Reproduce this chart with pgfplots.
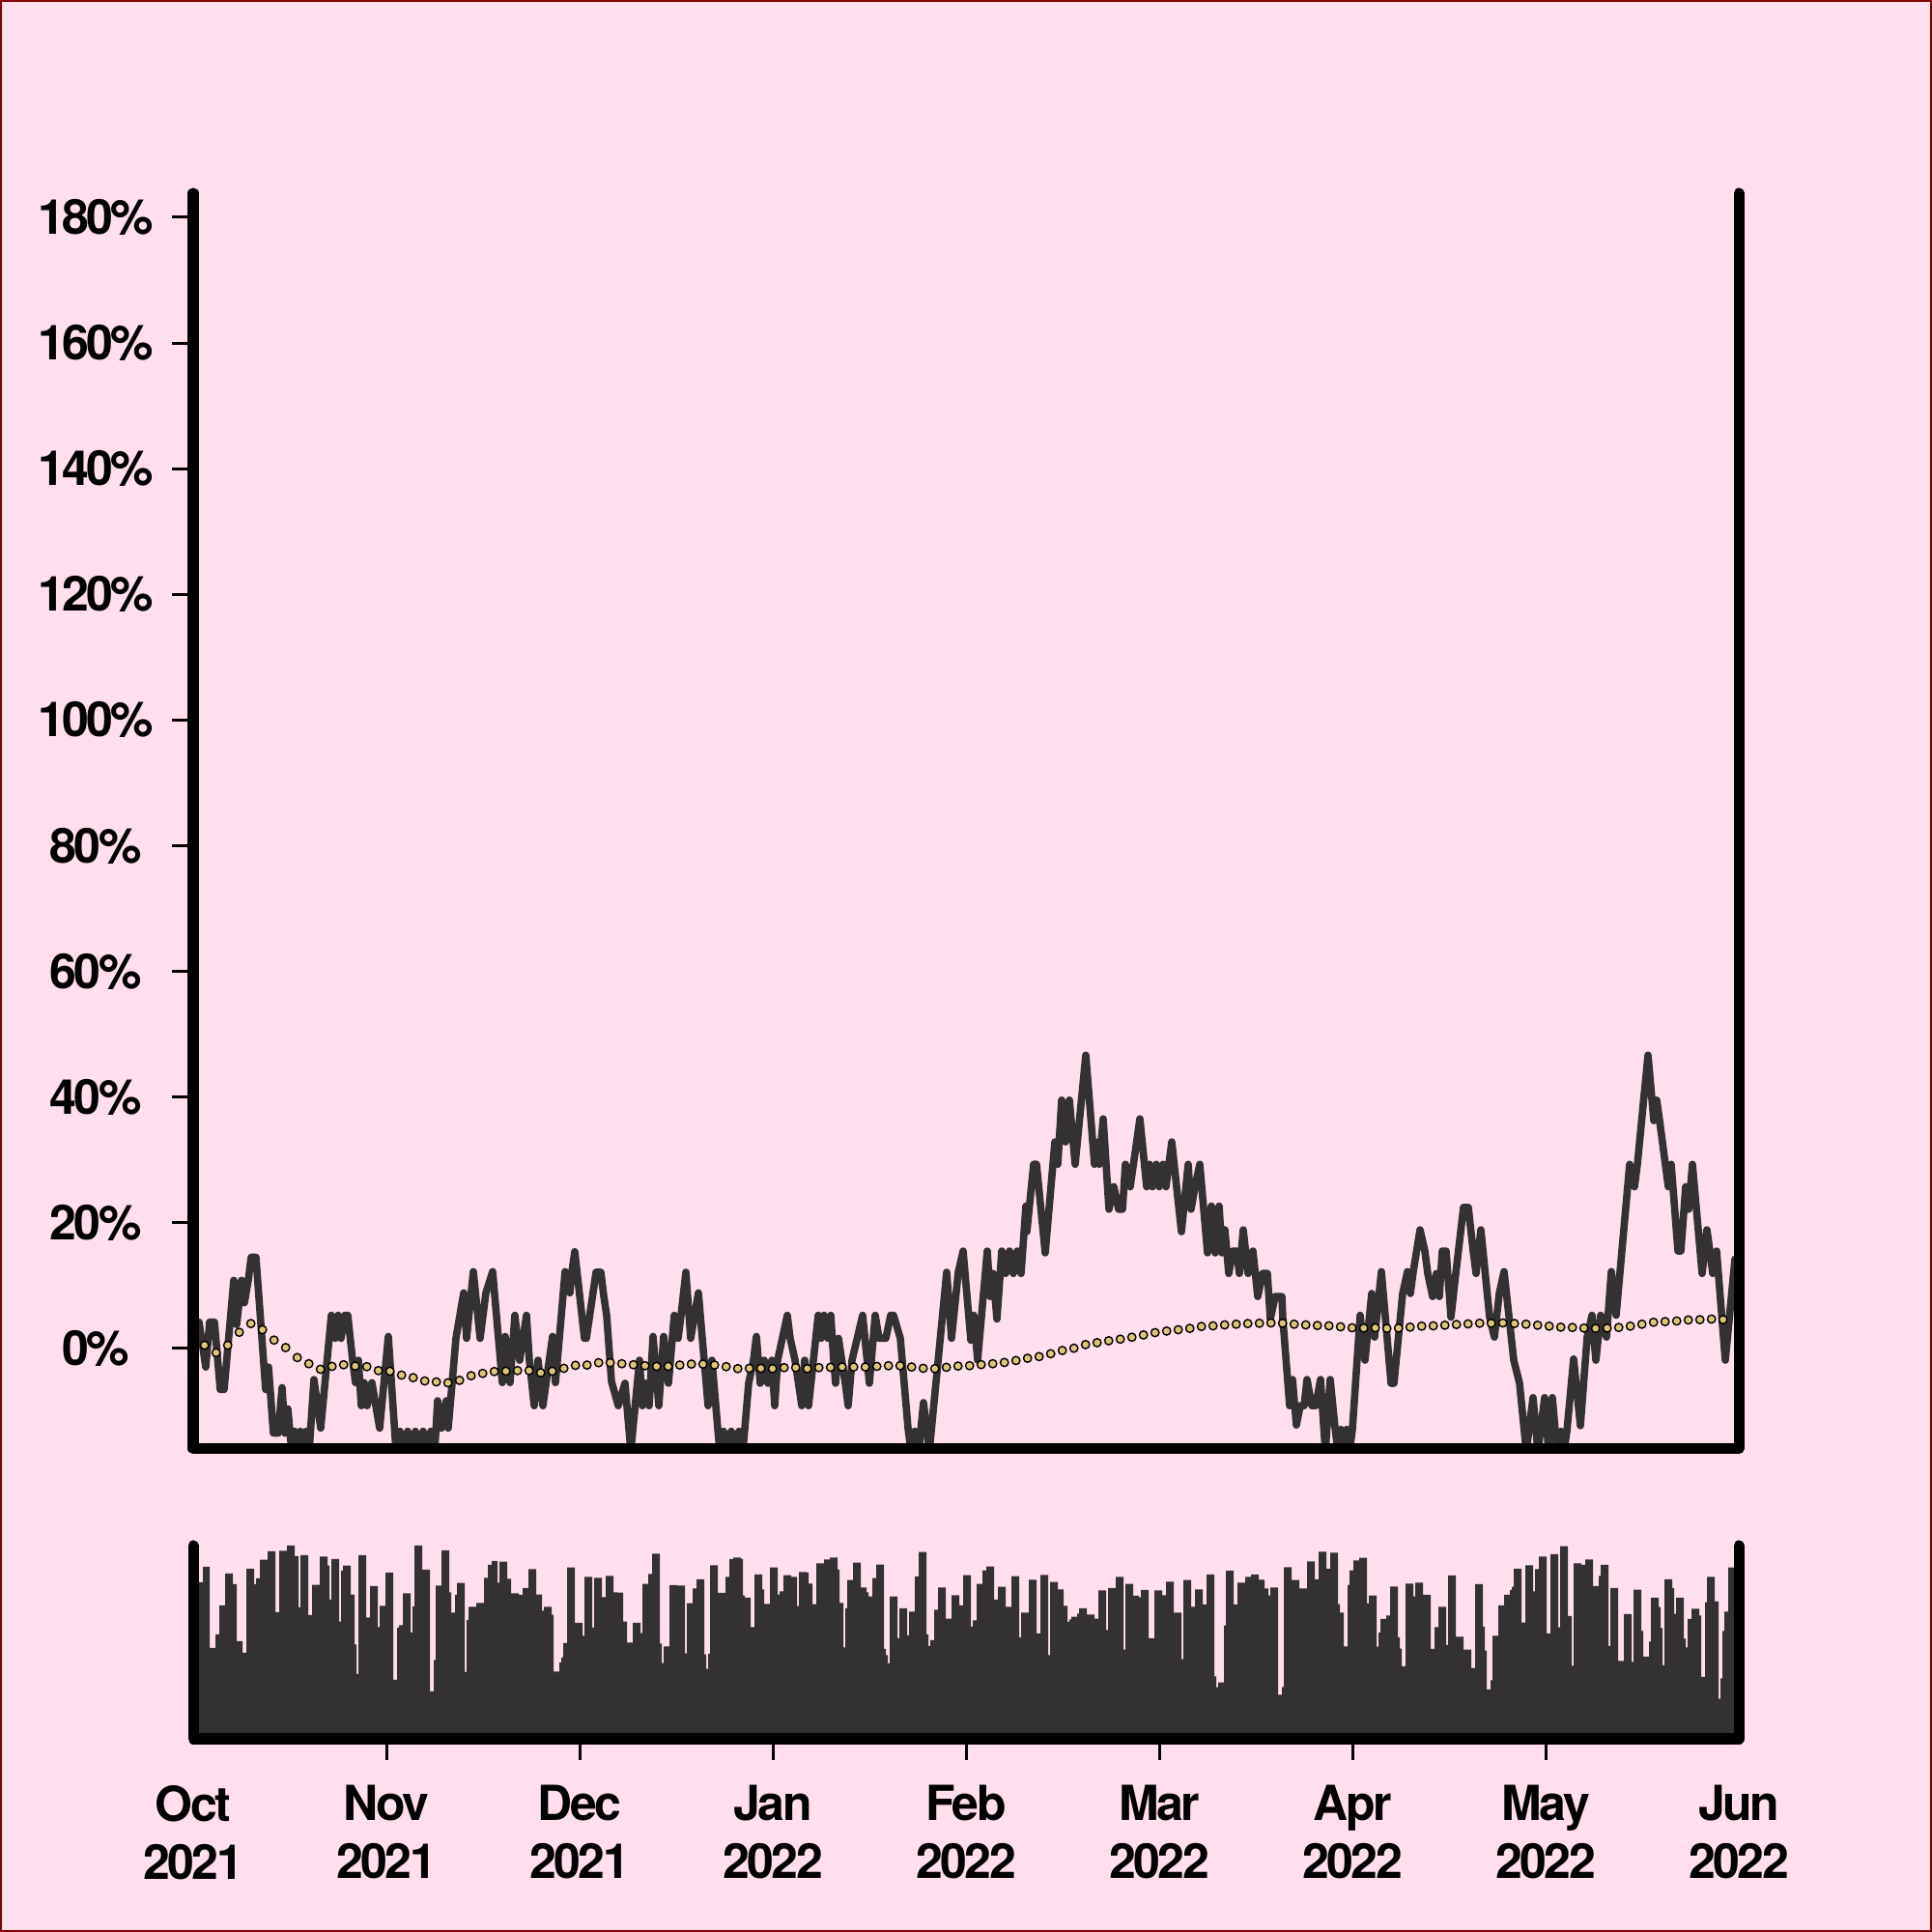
\documentclass[border=0pt]{standalone}
\usepackage{fontspec}
\setmainfont{TeX Gyre Heros}[LetterSpace=-5]
\usepackage{pgfplots}
\pgfplotsset{compat=1.18}
\definecolor{bg}{RGB}{255,223,238}
\definecolor{framecol}{RGB}{128,0,0}
\definecolor{ink}{RGB}{51,49,50}
\definecolor{dotfill}{RGB}{222,196,120}
\newcommand{\lblfont}{\fontsize{12.5}{15}\selectfont\bfseries}
\begin{document}
\begin{tikzpicture}
\fill[bg] (0pt,0pt) rectangle (500pt,500pt);
\draw[framecol, line width=0.5pt] (0.25pt,0.25pt) rectangle (499.75pt,499.75pt);
\useasboundingbox (0pt,0pt) rectangle (500pt,500pt);

% ---------------- main price axis ----------------
\begin{axis}[
  at={(50pt,125.125pt)}, anchor=south west, scale only axis,
  width=400pt, height=324.875pt,
  xmin=0, xmax=1600, ymin=-15.91, ymax=183.83,
  axis line style={draw=none},
  clip mode=individual,
  xtick=\empty,
  ytick={0,20,40,60,80,100,120,140,160,180},
  yticklabels={0\%,20\%,40\%,60\%,80\%,100\%,120\%,140\%,160\%,180\%},
  ytick pos=left, tick align=outside,
  major tick length=5.5pt,
  tick style={black, line width=0.75pt},
  yticklabel style={font=\lblfont, text width=32pt, align=center, inner sep=0pt, xshift=-3.5pt},
]
\addplot[ink, line width=1.9pt, line join=round, line cap=round] coordinates {
(0,1.32) (6,4.2) (13,-2.95) (17,4.2) (22,4.2) (28,-6.52) (32,-6.52) (42,10.85) (45,3.8) (50,10.85) (53,7.28) (57,10.85) (60,14.52) (65,14.52) (75,-6.52) (78,-2.95) (83,-13.47) (88,-13.47) (92,-6.22) (95,-13.47) (98,-9.6) (102,-16.35) (105,-13.17) (108,-16.35) (111,-13.17) (114,-16.35) (117,-13.17) (120,-16.35) (125,-4.93) (132,-12.67) (143,5.29) (147,1.62) (150,5.29) (153,1.62) (157,5.29) (160,5.29) (165,-1.86) (168,-5.43) (171,-1.86) (174,-9.1) (177,-5.43) (180,-9.1) (185,-5.43) (193,-12.67) (202,1.92) (210,-16.35) (214,-13.17) (218,-16.35) (222,-13.17) (226,-16.35) (230,-13.17) (234,-16.35) (238,-13.17) (242,-16.35) (246,-13.17) (250,-16.35) (253,-8.31) (257,-12.67) (262,-8.31) (264,-12.67) (272,1.62) (280,8.86) (283,1.62) (290,12.24) (297,1.62) (303,8.86) (310,12.24) (320,-5.43) (323,1.92) (328,-5.43) (333,5.29) (338,-1.86) (345,5.29) (348,-1.86) (353,-9.1) (357,-1.86) (362,-9.1) (372,1.92) (375,-5.43) (385,12.24) (390,8.86) (392,12.24) (395,15.41) (405,1.62) (407,1.62) (417,12.14) (422,12.14) (425,8.37) (428,5.29) (433,-5.23) (440,-9.1) (447,-5.53) (453,-16.35) (462,-1.86) (465,-9.1) (468,-5.53) (472,-9.1) (476,1.92) (482,-9.1) (487,1.92) (492,-5.53) (498,5.29) (502,1.62) (505,5.29) (510,12.14) (515,1.62) (519,5.29) (523,8.86) (527,1.62) (533,-9.1) (537,-1.86) (545,-16.35) (549,-13.17) (553,-16.35) (557,-13.17) (561,-16.35) (565,-13.17) (569,-16.35) (575,-5.53) (580,-1.86) (583,1.92) (587,-5.53) (591,-1.86) (595,-5.53) (599,-1.86) (602,-9.1) (605,-1.86) (615,5.29) (618,1.62) (623,-1.86) (630,-9.1) (633,-1.86) (637,-9.1) (647,5.29) (650,1.62) (653,5.29) (657,1.62) (660,5.29) (663,-1.86) (665,-5.53) (668,1.62) (675,-5.53) (678,-9.1) (682,-1.86) (693,5.29) (700,-5.53) (706,5.29) (710,1.62) (717,1.62) (722,5.29) (725,5.29) (732,1.62) (740,-12.67) (743,-16.35) (747,-13.17) (751,-16.35) (756,-8.61) (762,-16.35) (780,12.14) (785,1.62) (792,12.14) (797,15.51) (805,1.32) (808,5.29) (812,-1.86) (822,15.51) (825,8.27) (828,11.94) (832,4.69) (837,15.51) (841,11.94) (845,15.51) (849,11.94) (853,15.51) (857,11.94) (862,22.66) (863,18.59) (870,29.31) (873,29.31) (882,15.22) (892,32.88) (895,29.31) (899,39.53) (903,32.88) (907,39.53) (913,29.31) (924,46.68) (933,29.31) (937,32.88) (938,29.31) (942,36.55) (948,22.16) (953,25.74) (958,22.16) (962,22.16) (965,29.31) (970,25.74) (980,36.55) (987,25.74) (990,29.31) (993,25.74) (997,29.31) (1000,25.74) (1004,29.31) (1007,25.74) (1013,32.88) (1023,18.59) (1030,29.31) (1033,22.16) (1037,25.74) (1042,29.31) (1050,15.22) (1054,22.66) (1058,15.22) (1062,22.66) (1065,15.22) (1068,18.89) (1072,11.94) (1076,15.51) (1080,15.51) (1083,11.94) (1087,18.89) (1092,11.94) (1097,15.51) (1102,8.27) (1107,11.94) (1112,11.94) (1115,4.69) (1120,8.27) (1124,8.27) (1127,8.27) (1128,4.69) (1135,-9.1) (1138,-4.93) (1142,-12.18) (1146,-9.1) (1150,-9.1) (1153,-4.93) (1158,-9.1) (1162,-9.1) (1167,-4.93) (1172,-16.35) (1177,-4.93) (1182,-12.58) (1185,-16.35) (1188,-12.87) (1191,-16.35) (1194,-12.87) (1197,-16.35) (1200,-12.87) (1208,5.29) (1213,-1.86) (1220,8.76) (1223,1.82) (1230,12.24) (1240,-5.53) (1243,-5.53) (1252,8.76) (1257,12.24) (1260,8.76) (1263,12.24) (1270,18.89) (1275,15.51) (1278,11.94) (1283,8.27) (1287,11.94) (1290,8.27) (1293,15.51) (1297,15.51) (1302,4.99) (1307,11.94) (1315,22.46) (1320,22.46) (1325,15.51) (1328,11.94) (1333,18.89) (1342,4.99) (1347,1.82) (1352,8.76) (1357,12.24) (1367,-1.86) (1373,-5.53) (1380,-16.35) (1387,-7.81) (1392,-16.35) (1399,-7.81) (1403,-16.35) (1407,-7.81) (1410,-13.17) (1413,-16.35) (1416,-13.17) (1419,-16.35) (1422,-13.17) (1429,-1.66) (1436,-12.28) (1443,1.82) (1448,5.29) (1452,-1.86) (1457,5.29) (1463,1.82) (1468,12.24) (1473,5.29) (1487,29.31) (1492,25.74) (1495,29.31) (1506,46.68) (1512,36.26) (1515,39.53) (1518,36.26) (1527,25.74) (1530,29.31) (1537,15.51) (1540,15.51) (1545,25.74) (1548,22.16) (1552,29.31) (1562,11.94) (1567,18.89) (1570,15.51) (1573,11.94) (1577,15.51) (1586,-1.86) (1596,14.22)
};
\addplot[only marks, mark=*, mark size=1.05pt, mark options={fill=dotfill, draw=black, line width=0.35pt}] coordinates {
(11.7,0.52) (23.7,-0.66) (35.7,0.52) (47.7,2.58) (59.7,3.97) (71.7,2.99) (83.7,1.34) (95.7,0.15) (107.7,-1.44) (119.7,-2.42) (131.7,-3.3) (143.7,-2.84) (155.7,-2.58) (167.7,-2.79) (179.7,-2.89) (191.7,-3.51) (203.7,-3.61) (215.7,-4.23) (227.7,-4.64) (239.7,-5.16) (251.7,-5.31) (263.7,-5.46) (275.7,-5.06) (287.7,-4.33) (299.7,-3.96) (311.7,-3.66) (323.7,-3.61) (335.7,-3.51) (347.7,-3.51) (359.7,-3.86) (371.7,-3.61) (383.7,-3.15) (395.7,-2.68) (407.7,-2.63) (419.7,-2.26) (431.7,-2.26) (443.7,-2.42) (455.7,-2.58) (467.7,-2.74) (479.7,-2.84) (491.7,-2.84) (503.7,-2.63) (515.7,-2.48) (527.7,-2.48) (539.7,-2.63) (551.7,-2.89) (563.7,-3.2) (575.7,-3.15) (587.7,-3.15) (599.7,-3.2) (611.7,-3.04) (623.7,-3.04) (635.7,-3.2) (647.7,-3.04) (659.7,-2.99) (671.7,-2.94) (683.7,-2.94) (695.7,-2.94) (707.7,-2.84) (719.7,-2.74) (731.7,-2.74) (743.7,-2.94) (755.7,-3.15) (767.7,-3.2) (779.7,-2.99) (791.7,-2.79) (803.7,-2.73) (815.7,-2.56) (827.7,-2.42) (839.7,-2.22) (851.7,-1.91) (863.7,-1.55) (875.7,-1.29) (887.7,-0.83) (899.7,-0.31) (911.7,0.05) (923.7,0.62) (935.7,0.93) (947.7,1.24) (959.7,1.49) (971.7,1.8) (983.7,2.16) (995.7,2.53) (1007.7,2.78) (1019.7,2.99) (1031.7,3.2) (1043.7,3.51) (1055.7,3.61) (1067.7,3.76) (1079.7,3.87) (1091.7,3.97) (1103.7,4.02) (1115.7,4.07) (1127.7,4.02) (1139.7,3.87) (1151.7,3.76) (1163.7,3.66) (1175.7,3.61) (1187.7,3.46) (1199.7,3.3) (1211.7,3.25) (1223.7,3.3) (1235.7,3.2) (1247.7,3.25) (1259.7,3.4) (1271.7,3.56) (1283.7,3.61) (1295.7,3.71) (1307.7,3.82) (1319.7,3.92) (1331.7,4.02) (1343.7,4.02) (1355.7,4.07) (1367.7,3.97) (1379.7,3.87) (1391.7,3.71) (1403.7,3.56) (1415.7,3.4) (1427.7,3.35) (1439.7,3.25) (1451.7,3.2) (1463.7,3.25) (1475.7,3.35) (1487.7,3.56) (1499.7,3.87) (1511.7,4.18) (1523.7,4.28) (1535.7,4.38) (1547.7,4.54) (1559.7,4.59) (1571.7,4.69) (1583.7,4.59)
};
\draw[black, line width=2.75pt, line cap=round, line join=round]
  (rel axis cs:0,1) -- (rel axis cs:0,0) -- (rel axis cs:1,0) -- (rel axis cs:1,1);
\end{axis}

% ---------------- volume axis ----------------
\begin{axis}[
  at={(50pt,50pt)}, anchor=south west, scale only axis,
  width=400pt, height=50pt,
  xmin=0, xmax=1600, ymin=0, ymax=100,
  axis line style={draw=none},
  clip mode=individual,
  ytick=\empty,
  xtick={200,400,600,800,1000,1200,1400},
  xticklabels={{Nov\\2021},{Dec\\2021},{Jan\\2022},{Feb\\2022},{Mar\\2022},{Apr\\2022},{May\\2022}},
  extra x ticks={0,1600},
  extra x tick labels={{Oct\\2021},{Jun\\2022}},
  extra x tick style={tick style={draw=none}},
  xtick pos=bottom, tick align=outside,
  major tick length=5.5pt,
  tick style={black, line width=0.75pt},
  xticklabel style={font=\lblfont, align=center, inner sep=0pt, yshift=-6.3pt},
]
\addplot[fill=ink, draw=none, const plot] coordinates {
(0,81) (10,89) (17,47) (23,54) (27,69) (33,85.5) (41,80) (45,50.5) (51,44.5) (55,88) (63,80) (65,83) (69,92.7) (77,97) (85,65.5) (89,97.3) (97,100) (105,94.5) (109,68) (111,95) (119,64) (123,79.7) (131,94.3) (139,89.7) (141,72) (143,93) (151,60.7) (153,87) (155,89.7) (163,74.7) (167,48.8) (169,33.5) (171,95) (179,62.8) (183,79) (191,57.8) (193,68.8) (199,86) (207,30.5) (211,57.5) (213,58.8) (217,75.3) (225,55) (227,68.5) (229,100) (237,87.5) (245,24.5) (249,40.8) (251,79.3) (257,97.5) (265,75.8) (267,65.3) (271,74.5) (273,80.7) (281,34.5) (283,61.5) (285,68.3) (293,70.3) (301,83.3) (305,90) (309,92) (315,80.8) (317,91.7) (325,82.8) (329,75.3) (337,74.5) (341,78) (347,87.8) (355,74.7) (361,66.3) (363,68.3) (371,64.2) (373,34.8) (379,39.5) (381,42.2) (383,49.5) (387,88.7) (395,60)
(403,53.3) (405,83.8) (413,57.5) (415,83.3) (423,73.3) (427,84.3) (435,75.8) (439,75.7) (445,60.7) (449,49.8) (455,60) (463,54.7) (465,80.2) (471,85.3) (475,95.8) (483,49.3) (485,39.2) (487,47.8) (493,79.5) (501,79.3) (509,44.2) (511,70.2) (517,77.8) (521,82.5) (529,43.7) (531,36.2) (533,44) (535,89.8) (543,75.5) (551,83.8) (555,93) (559,93.8) (567,93) (569,74.2) (571,73) (577,57.8) (581,85) (589,77.3) (591,69.8) (597,88.7) (605,74.7) (607,76.3) (611,84.7) (619,83.8) (625,68.7) (627,86.3) (635,86) (637,80.3) (641,69.7) (645,90.8) (653,92.8) (659,93.8) (667,87.5) (669,70.3) (673,47.3) (675,67.5) (677,82.2) (683,91.2) (691,78.3) (697,75.8) (699,73.7) (703,83.2) (707,90.2) (715,46.5) (717,43.3) (719,39) (721,73.7) (729,52) (731,67.5) (739,53.5) (741,65.8) (747,84) (751,96.7) (759,54) (761,48) (763,51) (767,66.8) (771,78.3) (779,62.2) (785,74.3) (793,69) (797,84.7)
(805,58) (807,61.3) (811,80.2) (817,87.2) (821,89.2) (829,72) (833,78.7) (841,68.3) (847,84.2) (855,52.5) (857,65.3) (865,82.3) (873,54.5) (877,84.8) (885,43.3) (887,81.2) (895,77.3) (901,68.8) (905,60.5) (907,61.8) (909,63.2) (915,64.8) (917,67.5) (925,64.3) (933,62.2) (937,76.8) (945,56.3) (947,78) (955,83.8) (963,46.2) (965,80.2) (973,74) (979,73.2) (981,77) (989,52) (995,76.8) (1003,74.3) (1007,81.3) (1015,65.3) (1023,41.2) (1025,82.2) (1033,68.3) (1037,77.3) (1045,69.5) (1049,85) (1057,32.3) (1059,26.7) (1061,29.2) (1067,58.7) (1069,87) (1077,69.5) (1081,80.8) (1089,83.8) (1095,85) (1103,82.3) (1109,77.8) (1113,74.2) (1115,78.3) (1123,22.8) (1127,26.8) (1129,88.8) (1137,82.2) (1145,77.8) (1153,91.8) (1161,82.5) (1165,96.8) (1173,88) (1177,96.3) (1185,69.7) (1187,65.3) (1191,47.8) (1195,79.7) (1197,87.2) (1201,92.3) (1207,93.7) (1215,70) (1217,74.2)
(1225,47.7) (1227,55) (1229,62) (1235,63.8) (1239,78.8) (1247,52.5) (1249,46.7) (1251,37.5) (1255,80.3) (1263,73.7) (1265,80.8) (1273,74.5) (1281,46.5) (1285,57.8) (1289,68.3) (1297,48.5) (1299,84.5) (1307,52.8) (1315,46.2) (1323,36.7) (1327,80) (1335,58) (1337,45.7) (1339,25.5) (1343,30.3) (1345,53.3) (1351,69) (1357,74.5) (1363,77) (1365,78.7) (1367,88) (1375,60.2) (1379,89.8) (1387,76.3) (1389,87.8) (1393,94.3) (1401,54.5) (1405,95.5) (1413,57.7) (1415,99.7) (1423,63.5) (1427,37.8) (1429,90.8) (1437,90) (1441,92.8) (1449,79) (1455,84.3) (1457,90) (1465,48) (1467,78) (1475,40.3) (1481,64.5) (1489,39.8) (1491,77.2) (1499,55.8) (1501,42.5) (1507,50.3) (1509,73) (1517,68.2) (1519,57.3) (1521,38) (1523,82.5) (1531,78) (1533,64.7) (1535,73) (1543,51.8) (1545,47.3) (1547,62) (1551,67.3) (1559,63.8) (1561,32) (1565,70.7) (1567,83.8) (1575,71.2) (1579,20.7) (1581,31.3) (1583,55.8) (1585,65.8) (1589,88.7) (1600,88.7)
} \closedcycle;
\draw[black, line width=2.75pt, line cap=round, line join=round]
  (rel axis cs:0,1) -- (rel axis cs:0,0) -- (rel axis cs:1,0) -- (rel axis cs:1,1);
\end{axis}
\end{tikzpicture}
\end{document}
